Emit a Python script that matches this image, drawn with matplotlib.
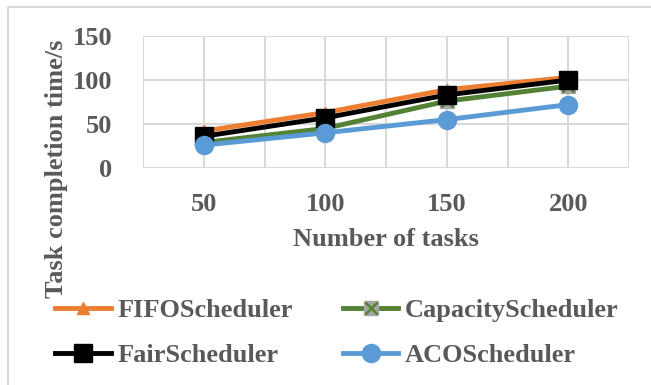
import matplotlib
matplotlib.use('Agg')
import matplotlib.pyplot as plt
from matplotlib.patches import Rectangle

# data
tasks = ['50', '100', '150', '200']
fifo = [42, 63, 89, 103]
capacity = [29, 45, 76, 93]
fair = [36, 57, 83, 100]
aco = [26, 40, 55, 72]

text_color = '#595959'
grid_color = '#D9D9D9'
fs = 19

plt.rcParams['font.family'] = ['Liberation Serif', 'DejaVu Serif']
plt.rcParams['font.weight'] = 'bold'

fig = plt.figure(figsize=(6.51, 3.85), dpi=100)
ax = fig.add_axes([143 / 651, 1 - 168 / 385, (629 - 143) / 651, (168 - 36) / 385])

x = list(range(len(tasks)))

# grid: horizontal at major ticks, vertical at every half category
for v in [0, 50, 100, 150]:
    ax.axhline(v, color=grid_color, lw=1.5, zorder=0)
for i in range(2 * len(tasks) + 1):
    ax.axvline(-0.5 + 0.5 * i, color=grid_color, lw=1.5, zorder=0)

l_fifo, = ax.plot(x, fifo, color='#ED7D31', lw=3.5, marker='^', markersize=9,
                  zorder=3)
l_cap, = ax.plot(x, capacity, color='#548235', lw=3.5, marker='s', markersize=10,
                 markerfacecolor='#A5A5A5', markeredgecolor='#A5A5A5', zorder=4)
l_capx, = ax.plot(x, capacity, ls='none', marker='x', markersize=9, mew=1.8,
                  color='#548235', zorder=4)
l_fair, = ax.plot(x, fair, color='black', lw=3.5, marker='s', markersize=13,
                  zorder=5)
l_aco, = ax.plot(x, aco, color='#5B9BD5', lw=3.5, marker='o', markersize=13,
                 zorder=6)

ax.set_xlim(-0.5, len(tasks) - 0.5)
ax.set_ylim(0, 150)
ax.set_yticks([0, 50, 100, 150])
ax.set_xticks(x)
ax.set_xticklabels(tasks)
ax.tick_params(length=0, labelsize=fs, labelcolor=text_color)
ax.tick_params(axis='x', pad=18)
ax.tick_params(axis='y', pad=22)
for s in ax.spines.values():
    s.set_visible(False)

fig.text(386 / 651, 1 - 240 / 385, 'Number of tasks', ha='center', va='center',
         fontsize=fs, color=text_color, fontweight='bold')
fig.text(56 / 651, 1 - 169 / 385, 'Task completion time/s', ha='center', va='center',
         rotation=90, fontsize=fs, color=text_color, fontweight='bold')

# legend filled column by column, so order gives rows FIFO/Capacity, Fair/ACO
handles = [l_fifo, l_fair, (l_cap, l_capx), l_aco]
labels = ['FIFOScheduler', 'FairScheduler', 'CapacityScheduler', 'ACOScheduler']
leg = fig.legend(handles, labels, ncol=2, loc='center',
                 bbox_to_anchor=(337 / 651, 1 - 333 / 385), frameon=False,
                 fontsize=fs, handlelength=2.1, handletextpad=0.25,
                 columnspacing=1.9, labelspacing=0.8)
for t in leg.get_texts():
    t.set_color(text_color)

# outer chart border
fig.patches.append(Rectangle((8 / 651, -0.1), 1.0, 1 - 6.5 / 385 + 0.1,
                             transform=fig.transFigure, fill=False,
                             edgecolor=grid_color, lw=1.5))

fig.savefig('out.png', dpi=100)
